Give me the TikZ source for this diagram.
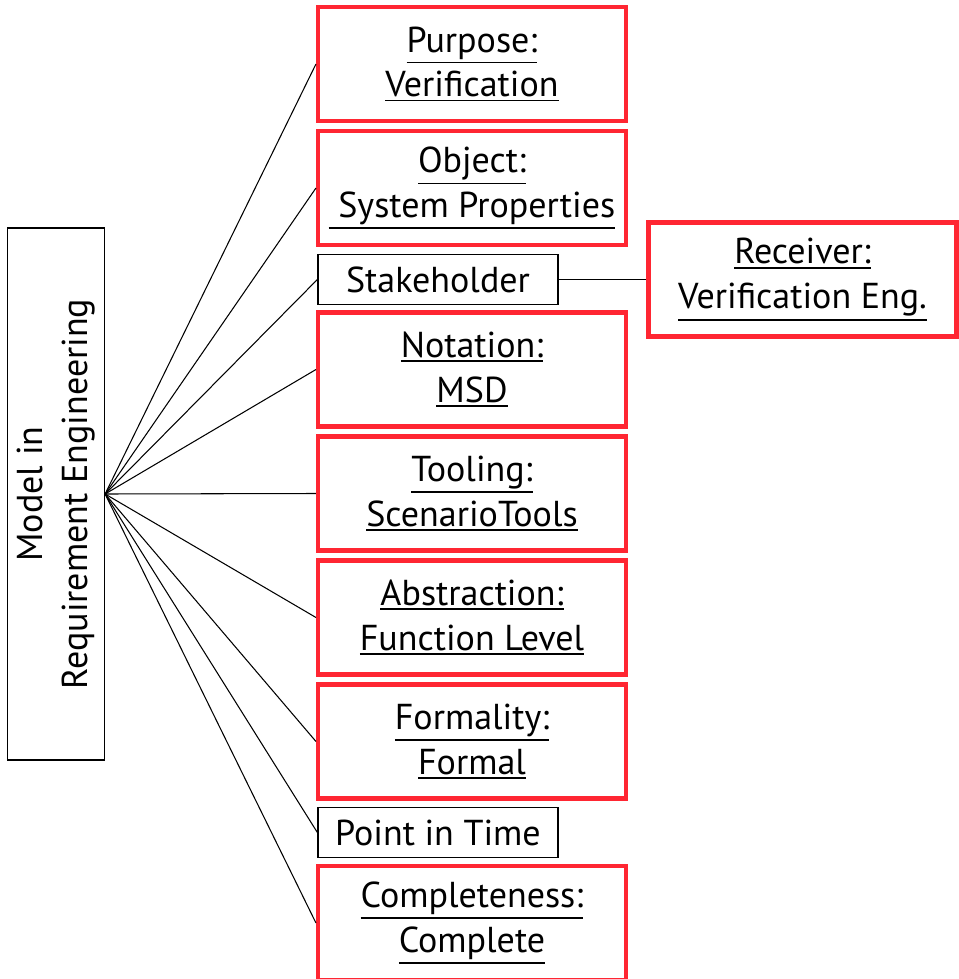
\documentclass[tikz,border=0pt]{standalone}
\usepackage{fontspec}
\setmainfont{PT Sans}
\usetikzlibrary{positioning}
\definecolor{boxred}{RGB}{255,38,50}

% underline with a heavier rule
\newcommand{\ulfield}[1]{\leavevmode\vtop{\hbox{#1}\kern1.3pt\hrule height 1.1pt}}

\tikzset{
  redbox/.style={draw=boxred, line width=2.3pt, minimum width=6.16cm, minimum height=2.28cm, align=center, inner sep=0pt},
  plainbox/.style={draw=black, line width=0.7pt, minimum width=4.8cm, minimum height=1.0cm, inner sep=0pt},
  link/.style={draw=black, line width=0.6pt},
}

\begin{document}
\begin{tikzpicture}[font=\fontsize{20.5}{25.5}\selectfont]

    \useasboundingbox (0,0) rectangle (19.16,-19.58);

    % the model itself
    \node[draw, line width=0.7pt, rotate=90, minimum width=10.64cm, minimum height=1.94cm, align=center, inner sep=0pt] (model) at (1.12,-9.88) {Model in\\Requirement Engineering};
    \coordinate (hub) at (model.south);

    %%%%%%%%%%%%%%%%%%%%%%%%%%%%%%%%%%%%%%%%%%%%%%%%%%%%%%

    % purpose
    \node[redbox] (purpose) at (9.44,-1.28) {\ulfield{Purpose:}\\\ulfield{Verification}};
    \draw[link] (hub) to (purpose.west);

    % object
    \node[redbox] (object) at (9.44,-3.76) {\ulfield{Object:}\\\ulfield{\ System Properties}};
    \draw[link] (hub) to (object.west);

    % stakeholder and receiver
    \node[plainbox] (stake) at (8.76,-5.59) {Stakeholder};
    \draw[link] (hub) to (stake.west);
    \node[redbox] (receiver) at (16.05,-5.59) {\ulfield{Receiver:}\\\ulfield{Verification Eng.}};
    \draw[link] (stake.east) to (receiver.west);

    % notation
    \node[redbox] (notation) at (9.44,-7.39) {\ulfield{Notation:}\\\ulfield{MSD}};
    \draw[link] (hub) to (notation.west);

    % tooling
    \node[redbox] (tooling) at (9.44,-9.87) {\ulfield{Tooling:}\\\ulfield{ScenarioTools}};
    \draw[link] (hub) to (tooling.west);

    % abstraction
    \node[redbox] (abstr) at (9.44,-12.35) {\ulfield{Abstraction:}\\\ulfield{Function Level}};
    \draw[link] (hub) to (abstr.west);

    % formality
    \node[redbox] (formal) at (9.44,-14.83) {\ulfield{Formality:}\\\ulfield{Formal}};
    \draw[link] (hub) to (formal.west);

    % point in time
    \node[plainbox] (time) at (8.76,-16.65) {Point in Time};
    \draw[link] (hub) to (time.west);

    % completeness
    \node[redbox] (complete) at (9.44,-18.46) {\ulfield{Completeness:}\\\ulfield{Complete}};
    \draw[link] (hub) to (complete.west);

\end{tikzpicture}
\end{document}
